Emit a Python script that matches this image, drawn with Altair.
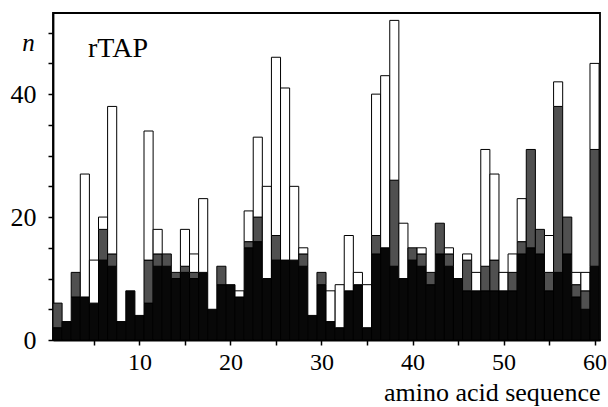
import altair as alt
import pandas as pd

residues = list(range(1, 61))
black = [2, 3, 7, 7, 6, 13, 12, 3, 8, 4,
         6, 12, 12, 10, 11, 10, 11, 5, 9, 9,
         7, 15, 16, 10, 13, 13, 13, 12, 4, 9,
         3, 2, 8, 9, 2, 14, 15, 12, 10, 13,
         12, 9, 14, 12, 10, 8, 8, 8, 8, 8,
         8, 14, 15, 14, 8, 11, 14, 7, 5, 12]
gray = [4, 0, 4, 0, 0, 5, 2, 0, 0, 0,
        7, 2, 2, 1, 1, 1, 0, 0, 3, 0,
        0, 1, 4, 0, 4, 0, 0, 2, 0, 2,
        0, 0, 0, 0, 0, 3, 0, 14, 0, 2,
        2, 2, 5, 2, 0, 5, 0, 4, 5, 0,
        3, 2, 16, 4, 3, 27, 6, 2, 3, 19]
white = [0, 0, 0, 20, 7, 2, 24, 0, 0, 0,
         21, 4, 0, 0, 6, 3, 12, 0, 0, 0,
         1, 5, 13, 15, 29, 28, 12, 1, 0, 0,
         5, 7, 9, 2, 7, 23, 28, 26, 9, 0,
         1, 0, 0, 1, 0, 1, 3, 19, 14, 3,
         3, 7, 0, 0, 6, 4, 0, 2, 3, 14]

rows = []
for r, b, g, w in zip(residues, black, gray, white):
    base = 0
    for name, v in (("black", b), ("gray", g), ("white", w)):
        if v > 0:
            rows.append({"res": r, "x": r - 0.5, "x2": r + 0.5,
                         "y": base, "y2": base + v, "part": name})
        base += v
df = pd.DataFrame(rows)

FONT = "Liberation Serif"

chart = alt.Chart(df).mark_rect(stroke="black", strokeWidth=1).encode(
    x=alt.X("x:Q",
            scale=alt.Scale(domain=[0.5, 60.6], nice=False, zero=False),
            axis=alt.Axis(values=list(range(5, 61, 5)),
                          labelExpr="datum.value % 10 == 0 ? datum.label : ''",
                          title="amino acid sequence",
                          titleAnchor="end", titleAlign="right",
                          titleX=547, titleY=60, titleBaseline="alphabetic",
                          titleFont=FONT, titleFontSize=26, titleFontWeight="normal",
                          labelFont=FONT, labelFontSize=24, labelPadding=5,
                          tickSize=5, grid=False)),
    x2="x2:Q",
    y=alt.Y("y:Q",
            scale=alt.Scale(domain=[0, 53.2], nice=False),
            axis=alt.Axis(values=list(range(0, 51, 5)),
                          labelExpr="datum.value % 20 == 0 ? datum.label : ''",
                          title="n", titleAngle=0, titleFontStyle="italic",
                          titleX=-25, titleY=37, titleAlign="center",
                          titleBaseline="alphabetic",
                          titleFont=FONT, titleFontSize=25, titleFontWeight="normal",
                          labelFont=FONT, labelFontSize=26, labelPadding=12,
                          tickSize=5, grid=False)),
    y2="y2:Q",
    color=alt.Color("part:N",
                    scale=alt.Scale(domain=["black", "gray", "white"],
                                    range=["#080808", "#505050", "#ffffff"]),
                    legend=None),
).properties(
    width=547, height=327,
    title=alt.TitleParams(text="rTAP", anchor="start", frame="group",
                          orient="top", dx=35, dy=72, offset=0,
                          baseline="alphabetic",
                          font=FONT, fontSize=28, fontWeight="normal", color="black"),
    autosize=alt.AutoSizeParams(type="none"),
    padding={"left": 53, "top": 13, "right": 8, "bottom": 67},
).configure_view(
    stroke="black", strokeWidth=1.8
).configure_axis(
    domainColor="black", domainWidth=1.8, tickColor="black", tickWidth=1.5,
    labelColor="black", titleColor="black"
)

chart.save("out.html", embed_options={"renderer": "svg", "actions": False})
